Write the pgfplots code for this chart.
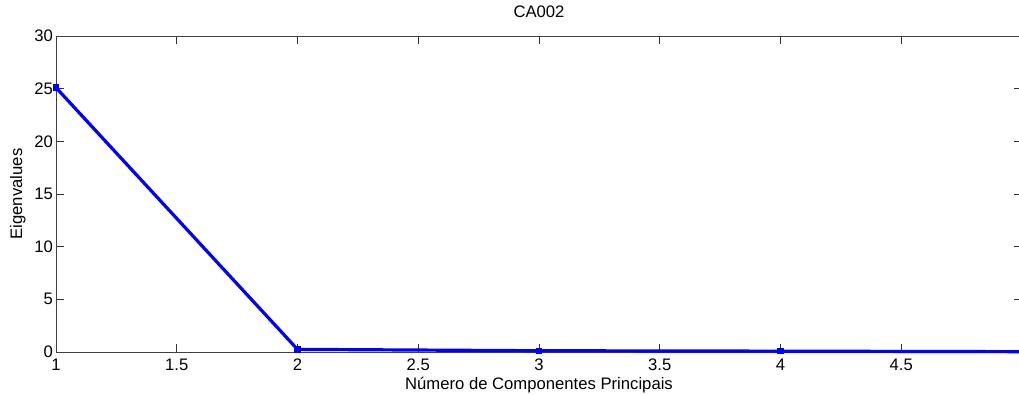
\documentclass[border=0pt]{standalone}
\usepackage{pgfplots}
\pgfplotsset{compat=1.18}
\usepackage{fontspec}
\setmainfont{Liberation Sans}
\usetikzlibrary{calc}

\begin{document}
\fontsize{12.5}{14}\selectfont
\begin{tikzpicture}
\begin{axis}[
	scale only axis,
	width=724.5pt, height=237pt,
	xmin=1, xmax=5, ymin=0, ymax=30,
	xtick={1,1.5,2,2.5,3,3.5,4,4.5},
	ytick={0,5,10,15,20,25,30},
	xticklabels={1,1.5,2,2.5,3,3.5,4,4.5},
	tick align=inside,
	major tick length=6pt,
	axis line style={black!75, line width=0.6pt},
	tick style={black!80, line width=0.6pt},
	/pgf/number format/assume math mode=true,
	ticklabel style={font=\fontsize{12.5}{14}\selectfont},
	label style={font=\fontsize{12.5}{14}\selectfont},
	title style={font=\fontsize{12.5}{14}\selectfont, yshift=3.5pt},
	title={CA002},
	xlabel={Número de Componentes Principais},
	ylabel={Eigenvalues},
	xlabel style={yshift=4pt},
	ylabel style={yshift=-2pt},
	xticklabel style={yshift=-1pt},
	yticklabel style={xshift=2pt},
	clip=false,
]
\addplot[blue, line width=2.4pt, mark=square*, mark size=1.2pt, mark options={fill=blue, draw=blue}] coordinates {
	(1,25.1)
	(2,0.25)
	(3,0.12)
	(4,0.08)
	(5,0.03)
};
\end{axis}
\pgfresetboundingbox
\useasboundingbox ($(current axis.south west)+(-42pt,-32pt)$) rectangle ($(current axis.north east)+(-2.25pt,27pt)$);
\end{tikzpicture}
\end{document}
